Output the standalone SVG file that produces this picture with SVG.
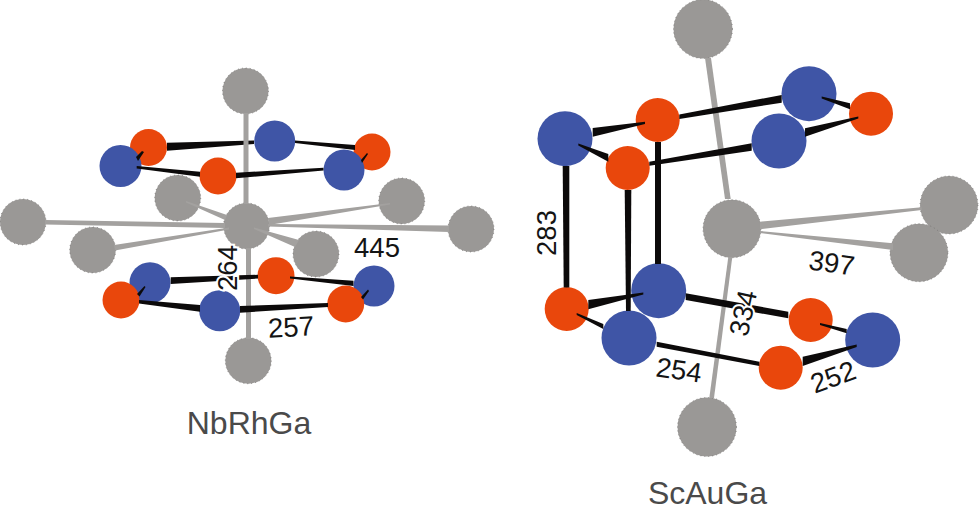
<svg xmlns="http://www.w3.org/2000/svg" width="980" height="511" viewBox="0 0 980 511">
<style>
.g{fill:#9a9896;stroke:#6e6c6a;stroke-width:.7;stroke-dasharray:1 3}
.b{fill:#3f55a6}
.r{fill:#e9470c}
.bk polygon{fill:#0c0a0a}
.gy polygon{fill:#a3a19f}
text{font-family:"Liberation Sans",Arial,sans-serif;text-anchor:middle}
.n{font-size:27.5px;fill:#141414}
.h{stroke:#fff;stroke-width:4px;paint-order:stroke}
.t{font-size:32px;fill:#4a4a4a}
</style>
<rect width="980" height="511" fill="#fff"/>
<g id="n1-nodes">
<g id="a-gray-top"><circle class="g" cx="245.5" cy="91" r="23"/></g>
<g id="a-red-1"><circle class="r" cx="148.5" cy="147.5" r="18.5"/></g>
<g id="a-red-2"><circle class="r" cx="372" cy="152" r="18.5"/></g>
<g id="a-blue-1"><circle class="b" cx="274.7" cy="141" r="20.5"/></g>
<g id="a-blue-2"><circle class="b" cx="120.5" cy="166" r="21"/></g>
<g id="a-blue-3"><circle class="b" cx="344" cy="170" r="20.5"/></g>
<g id="a-gray-1"><circle class="g" cx="177.7" cy="198" r="23"/></g>
<g id="a-red-3"><circle class="r" cx="218" cy="176" r="18.5"/></g>
<g id="a-gray-2"><circle class="g" cx="401.7" cy="201" r="23"/></g>
<g id="a-gray-3"><circle class="g" cx="23" cy="222" r="23"/></g>
<g id="a-gray-4"><circle class="g" cx="471" cy="229" r="23"/></g>
<g id="a-gray-5"><circle class="g" cx="92.7" cy="250" r="23"/></g>
<g id="a-gray-6"><circle class="g" cx="316" cy="254" r="23"/></g>
<g id="a-gray-center"><circle class="g" cx="246.5" cy="226" r="23"/></g>
<g id="a-blue-4"><circle class="b" cx="150" cy="282.7" r="20.5"/></g>
<g id="a-blue-5"><circle class="b" cx="374" cy="286" r="20.5"/></g>
<g id="a-red-4"><circle class="r" cx="276" cy="275.7" r="18.5"/></g>
<g id="a-red-5"><circle class="r" cx="121" cy="300" r="18.5"/></g>
<g id="a-red-6"><circle class="r" cx="345.7" cy="304" r="18.5"/></g>
<g id="a-blue-6"><circle class="b" cx="219.7" cy="310.7" r="20.5"/></g>
<g id="a-gray-bottom"><circle class="g" cx="248.3" cy="360.7" r="23"/></g>
</g>
<g id="n2-nodes">
<g id="c-gray-top"><circle class="g" cx="703" cy="29" r="29.5"/></g>
<g id="c-blue-1"><circle class="b" cx="809" cy="93.7" r="27.5"/></g>
<g id="c-red-1"><circle class="r" cx="871" cy="113.7" r="22"/></g>
<g id="c-red-2"><circle class="r" cx="657.7" cy="120" r="22"/></g>
<g id="c-blue-2"><circle class="b" cx="565" cy="138.7" r="27.5"/></g>
<g id="c-blue-3"><circle class="b" cx="779" cy="141" r="27.5"/></g>
<g id="c-red-3"><circle class="r" cx="627.7" cy="168" r="22"/></g>
<g id="c-gray-1"><circle class="g" cx="949" cy="205" r="29"/></g>
<g id="c-gray-2"><circle class="g" cx="919" cy="252.7" r="29"/></g>
<g id="c-gray-center"><circle class="g" cx="732" cy="228.7" r="29"/></g>
<g id="c-red-4"><circle class="r" cx="566.7" cy="309" r="22"/></g>
<g id="c-blue-4"><circle class="b" cx="658.7" cy="290.7" r="27.5"/></g>
<g id="c-blue-5"><circle class="b" cx="629" cy="338" r="27.5"/></g>
<g id="c-red-5"><circle class="r" cx="810.7" cy="320" r="22"/></g>
<g id="c-blue-6"><circle class="b" cx="872.7" cy="340" r="27.5"/></g>
<g id="c-red-6"><circle class="r" cx="780.7" cy="367.7" r="22"/></g>
<g id="c-gray-bottom"><circle class="g" cx="707" cy="427" r="29.5"/></g>
</g>
<g id="connectors">
<g class="bk">
<polygon points="167,142.7 167,150.7 254,144 254,140.5"/>
</g>
<g class="gy">
<polygon points="243.5,113 248.5,113 248.5,204 243.5,204"/>
<polygon points="246,248 251,248 251,339 246,339"/>
<polygon points="45,220 45,224.5 225,228 225,223"/>
<polygon points="268,224 268,226.5 449,232 449,225.5"/>
<polygon points="114,245 115,250.5 229,229.5 229,227.5"/>
<polygon points="268,218 269,225 390,204.5 390,203"/>
<polygon points="186,201 227,215 225,220 186,202.5"/>
<polygon points="254,227.5 299,240 295,247 254,229"/>
<polygon points="705,58 711,58 730.7,199 725,199"/>
<polygon points="728.3,257 732.3,257 714,398 709.3,398"/>
<polygon points="760,221.7 760,229.3 921.7,210 921.7,207.3"/>
<polygon points="760,231 760,233 893,250 893,243.3"/>
</g>
<g class="bk">
<polygon points="295,140.5 295,143 355,150 355,145"/>
<polygon points="136.7,166 136.7,168.5 200,176.7 200,171.7"/>
<polygon points="236,172.7 236,178.3 323.5,170.5 323.5,167.8"/>
<polygon points="136,157 138,161 144,152 142,151"/>
<polygon points="361,160 362,163 368,154 367,153"/>
<polygon points="170.7,277.3 170.7,284 258,278.5 258,274.8"/>
<polygon points="290,276.5 290,278.5 353.5,286 353.5,280.7"/>
<polygon points="139,300 139,303.5 200,311.7 200,305"/>
<polygon points="240,306 240,312.7 328,307 328,303"/>
<polygon points="137,294 139.5,296.5 145.5,287 144.5,286"/>
<polygon points="361,297 363,299.5 369,291 368,289.5"/>
<polygon points="679.3,114.5 679.3,119 781.7,102.7 781.7,95"/>
<polygon points="821.7,96.5 821.7,98.5 850,109.3 850,103.3"/>
<polygon points="858.3,116.5 858.3,118.5 805,136.7 805,128.3"/>
<polygon points="751.7,143.3 751.7,150.7 649.3,165.7 649.3,161.7"/>
<polygon points="578.3,143.5 578.3,145.5 608.3,161.7 608.3,154"/>
<polygon points="592.7,128 592.7,136.7 645,124 645,121.7"/>
<polygon points="562.7,166 569.3,166 569.3,287.5 563.7,287.5"/>
<polygon points="624.7,190 631.3,190 630.7,311 626,311"/>
<polygon points="655,142 661,142 661,264 655,264"/>
<polygon points="588.3,300 588.3,309.3 643.3,294.5 643.3,292.5"/>
<polygon points="576.7,313 576.7,315 603.3,329 603.3,324"/>
<polygon points="685.7,293.3 685.7,300 788.3,318.3 788.3,311.7"/>
<polygon points="820,323 820,325 846.7,333.3 846.7,329"/>
<polygon points="856.7,344.5 856.7,347 802.7,366 802.7,356.7"/>
<polygon points="656.7,341.7 656.7,346.7 759.3,366 759.3,361.7"/>
</g>
</g>
<g id="labels">
<text class="n" transform="translate(377 247.5)" y="9.5">445</text>
<text class="n" transform="translate(291 327) rotate(-3)" y="9.5">257</text>
<text class="n h" transform="translate(227 268) rotate(-90)" y="9.5">264</text>
<text class="t" x="249" y="434">NbRhGa</text>
<text class="n" transform="translate(546 233) rotate(-90)" y="9.5">283</text>
<text class="n" transform="translate(831.7 263) rotate(8)" y="9.5">397</text>
<text class="n h" transform="translate(743 313) rotate(-78)" y="9.5">334</text>
<text class="n" transform="translate(679 370) rotate(8)" y="9.5">254</text>
<text class="n" transform="translate(833 377) rotate(-20)" y="9.5">252</text>
<text class="t" x="707.5" y="504">ScAuGa</text>
</g>
</svg>
